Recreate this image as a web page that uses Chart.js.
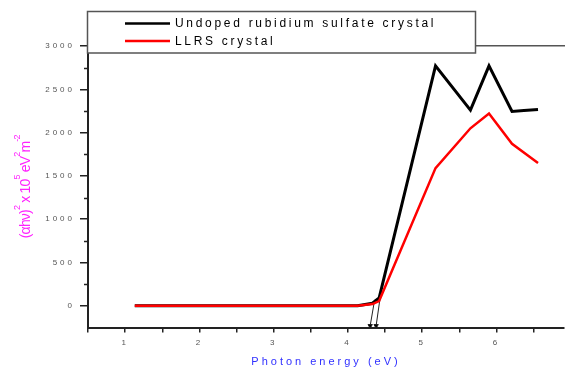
<!DOCTYPE html>
<html>
<head>
<meta charset="utf-8">
<script src="https://cdn.jsdelivr.net/npm/chart.js@4.4.1/dist/chart.umd.min.js"></script>
<style>
  html, body { margin: 0; padding: 0; background: #fff; overflow: hidden; }
</style>
</head>
<body>
<canvas id="tauc" width="569" height="371"></canvas>
<script>
// Tauc plot: (alpha h nu)^2 against photon energy
const undopedEnergy = [1.13, 4.13, 4.33, 4.42, 5.18, 5.65, 5.90, 6.21, 6.37, 6.56];
const undopedValues = [0, 0, 30, 90, 2770, 2260, 2770, 2245, 2254, 2267];
const llrsEnergy = [1.13, 4.13, 4.33, 4.42, 5.18, 5.65, 5.90, 6.21, 6.56];
const llrsValues = [0, 0, 20, 55, 1590, 2050, 2220, 1870, 1650];

// extrapolated band edges, arrow end on the energy axis
const edgeUndopedX = [4.36, 4.30];
const edgeLlrsX = [4.43, 4.38];
const edgeY = [70, -230];

const yTickValues = [0, 500, 1000, 1500, 2000, 2500, 3000];
const yMinorTicks = [250, 750, 1250, 1750, 2250, 2750];
const xTickValues = [0.5, 1, 1.5, 2, 2.5, 3, 3.5, 4, 4.5, 5, 5.5, 6, 6.5];
const yTitleParts = [
  ['(\u03b1h\u03bd)', false], ['2', true], [' x 10', false], ['5', true],
  [' eV', false], ['2', true], ['m', false], ['-2', true]
];

const pts = (xs, ys) => xs.map((x, i) => ({ x: x, y: ys[i] }));

const extras = {
  id: 'extras',
  beforeDraw(chart) {
    chart.ctx.letterSpacing = '3px';
  },
  afterDraw(chart) {
    const ctx = chart.ctx;
    const y = chart.scales.y;
    const area = chart.chartArea;

    // short minor ticks on the left axis
    ctx.save();
    ctx.strokeStyle = '#222';
    ctx.lineWidth = 1.5;
    yMinorTicks.forEach(v => {
      const py = Math.round(y.getPixelForValue(v)) + 0.5;
      ctx.beginPath();
      ctx.moveTo(area.left - 4, py);
      ctx.lineTo(area.left, py);
      ctx.stroke();
    });
    ctx.restore();

    // y title with raised exponents
    ctx.save();
    ctx.letterSpacing = '-0.8px';
    ctx.fillStyle = '#ff22ff';
    ctx.textBaseline = 'alphabetic';
    const baseFont = '14px "Liberation Sans", Arial, sans-serif';
    const supFont = '9px "Liberation Sans", Arial, sans-serif';
    let total = 0;
    const widths = yTitleParts.map(([t, sup]) => {
      ctx.font = sup ? supFont : baseFont;
      const w = ctx.measureText(t).width;
      total += w;
      return w;
    });
    ctx.translate(25, (area.top + area.bottom) / 2);
    ctx.rotate(-Math.PI / 2);
    let cx = -total / 2;
    yTitleParts.forEach(([t, sup], i) => {
      ctx.font = sup ? supFont : baseFont;
      ctx.fillText(t, cx, sup ? -5 : 5);
      cx += widths[i];
    });
    ctx.restore();

    // legend box
    ctx.save();
    ctx.fillStyle = '#fff';
    ctx.fillRect(87.5, 11.5, 388, 41.5);
    ctx.strokeStyle = '#555';
    ctx.lineWidth = 1.5;
    ctx.strokeRect(87.5, 11.5, 388, 41.5);
    ctx.letterSpacing = '2.7px';
    ctx.font = '12px "Liberation Sans", Arial, sans-serif';
    ctx.textBaseline = 'middle';
    ctx.fillStyle = '#000';
    const rows = [23.5, 41];
    chart.data.datasets.slice(0, 2).forEach((ds, i) => {
      ctx.strokeStyle = ds.borderColor;
      ctx.lineWidth = 2.5;
      ctx.beginPath();
      ctx.moveTo(125, rows[i]);
      ctx.lineTo(170, rows[i]);
      ctx.stroke();
      ctx.fillText(ds.label, 175, rows[i] + 0.5);
    });
    ctx.restore();
  }
};

const tickFont = { family: '"Liberation Sans", Arial, sans-serif', size: 8 };

new Chart(document.getElementById('tauc'), {
  type: 'line',
  data: {
    datasets: [
      {
        label: 'Undoped rubidium sulfate crystal',
        data: pts(undopedEnergy, undopedValues),
        borderColor: '#000',
        borderWidth: 3,
        pointRadius: 0,
        order: 1
      },
      {
        label: 'LLRS crystal',
        data: pts(llrsEnergy, llrsValues),
        borderColor: '#ff0000',
        borderWidth: 2.5,
        pointRadius: 0,
        order: 0
      },
      {
        label: 'edge 1',
        data: pts(edgeUndopedX, edgeY),
        borderColor: '#222',
        backgroundColor: '#000',
        borderWidth: 1,
        pointStyle: 'triangle',
        rotation: 180,
        pointRadius: [0, 2.5],
        order: 2
      },
      {
        label: 'edge 2',
        data: pts(edgeLlrsX, edgeY),
        borderColor: '#222',
        backgroundColor: '#000',
        borderWidth: 1,
        pointStyle: 'triangle',
        rotation: 180,
        pointRadius: [0, 2.5],
        order: 2
      }
    ]
  },
  options: {
    responsive: false,
    animation: false,
    devicePixelRatio: 1,
    layout: { padding: 0 },
    plugins: { legend: { display: false }, tooltip: { enabled: false } },
    scales: {
      x: {
        type: 'linear',
        min: 0.5,
        max: 6.91,
        border: { color: '#222', width: 2 },
        grid: { drawOnChartArea: false, tickLength: 5, color: '#222', lineWidth: 1.5 },
        afterBuildTicks: s => { s.ticks = xTickValues.map(v => ({ value: v })); },
        ticks: {
          autoSkip: false,
          maxRotation: 0,
          padding: 5,
          color: '#555',
          font: tickFont,
          callback: v => Number.isInteger(v) ? String(v) : ''
        },
        title: {
          display: true,
          text: 'Photon energy (eV)',
          color: '#3030ff',
          font: { family: '"Liberation Sans", Arial, sans-serif', size: 11 },
          padding: { top: 0, bottom: 2 }
        },
        afterFit: s => { s.height = 43.5; }
      },
      top: {
        type: 'linear',
        position: 'top',
        display: true,
        min: 0.5,
        max: 6.91,
        border: { display: true, color: '#555', width: 1.5 },
        grid: { display: false },
        ticks: { display: false },
        afterFit: s => { s.height = 46; }
      },
      y: {
        min: -250,
        max: 3000,
        border: { color: '#222', width: 2 },
        grid: { drawOnChartArea: false, tickLength: 8, color: '#222', lineWidth: 1.5 },
        afterBuildTicks: s => { s.ticks = yTickValues.map(v => ({ value: v })); },
        ticks: {
          autoSkip: false,
          padding: 5,
          color: '#555',
          font: tickFont,
          callback: v => String(v)
        },
        afterFit: s => { s.width = 88; }
      }
    }
  },
  plugins: [extras]
});
</script>
</body>
</html>
